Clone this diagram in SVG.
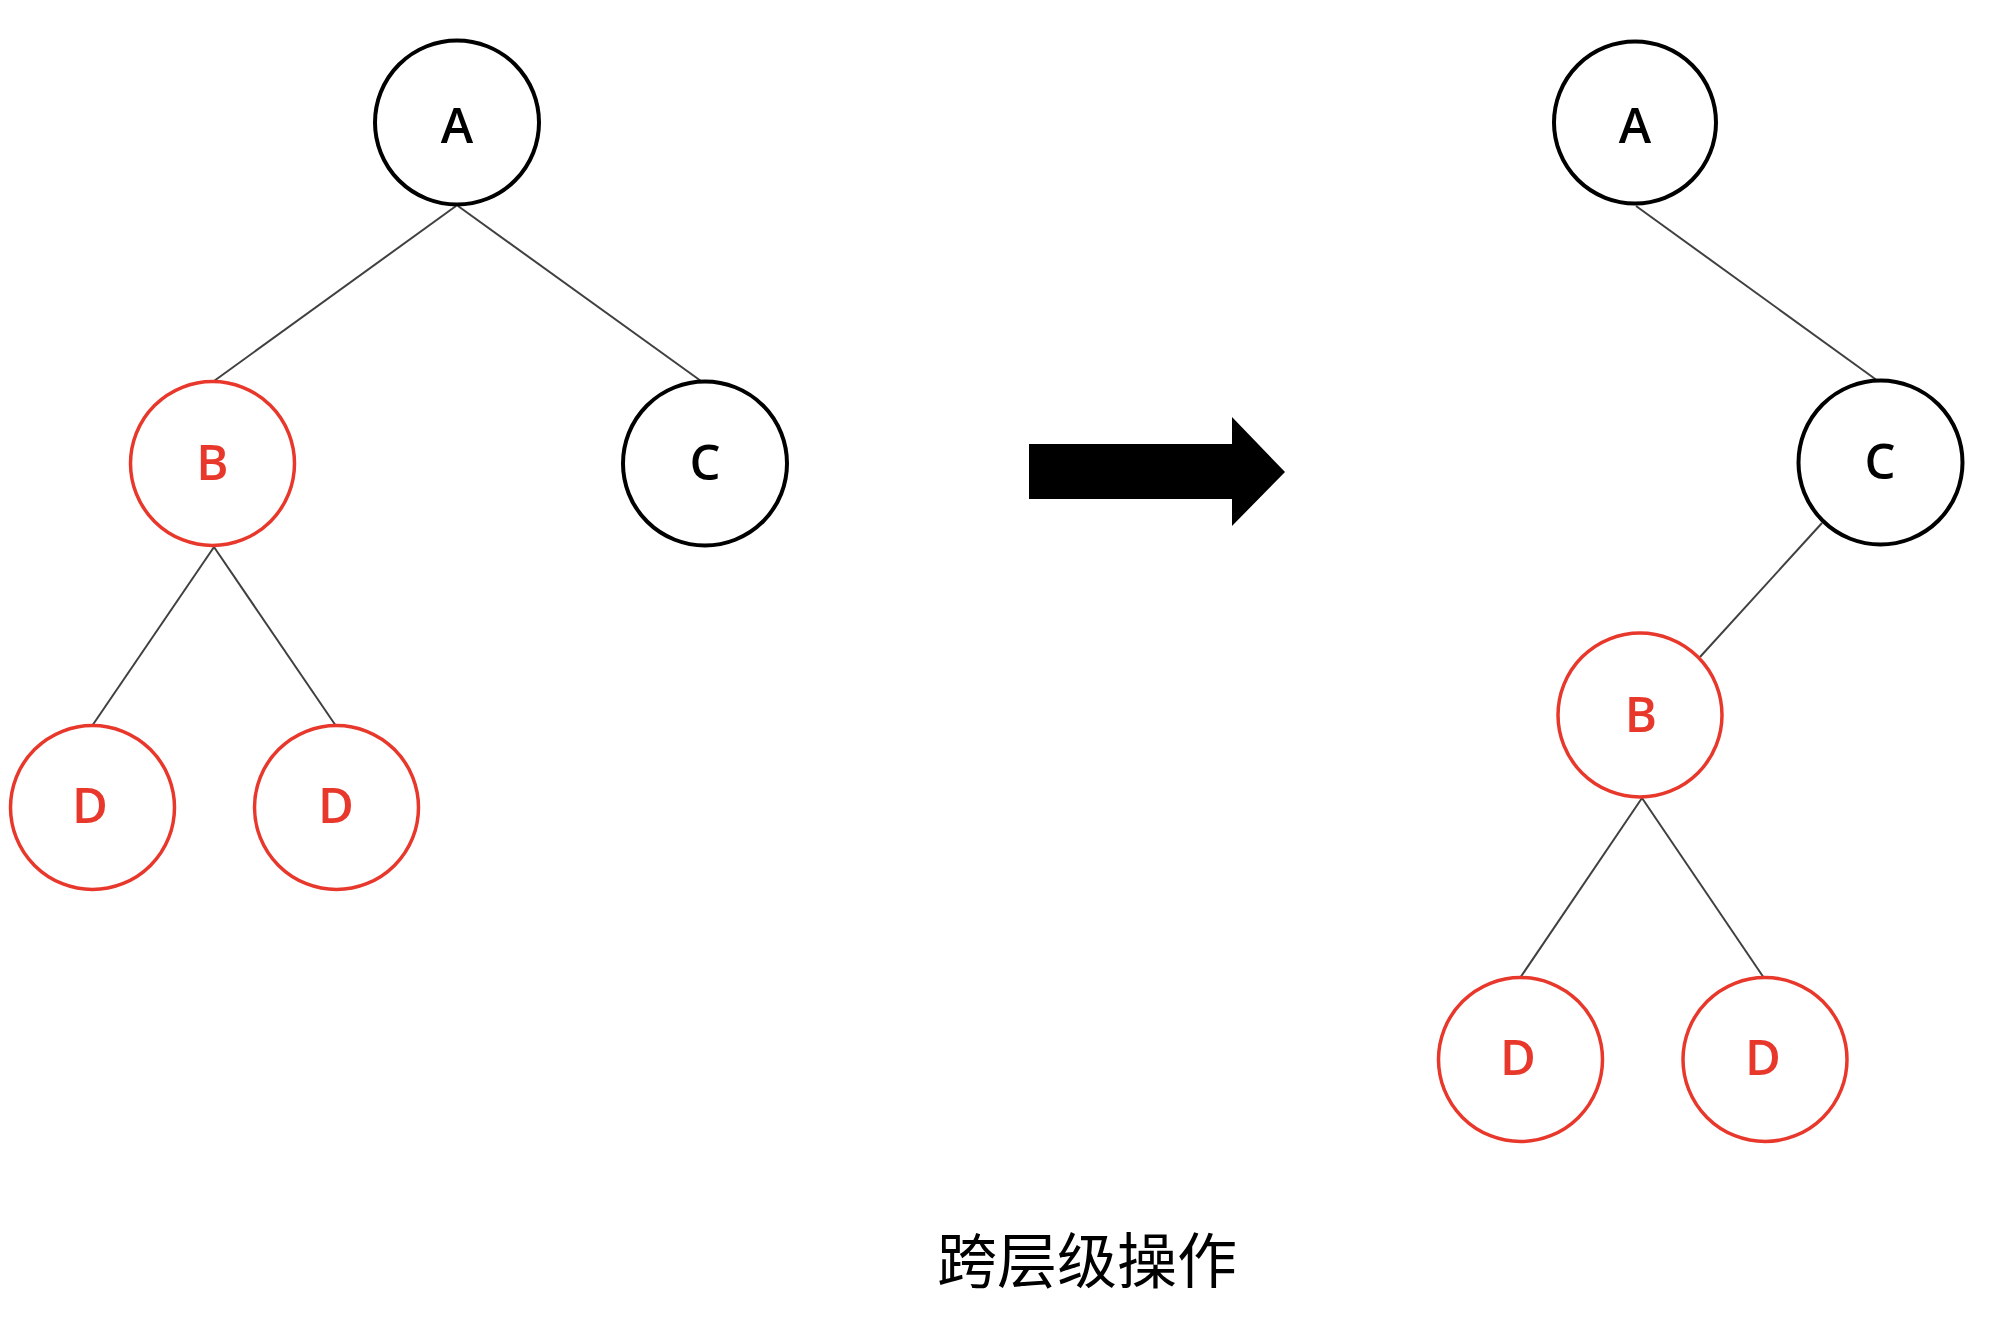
<svg xmlns="http://www.w3.org/2000/svg" width="1996" height="1324" viewBox="0 0 1996 1324">
<style>
.n{fill:#fff;stroke-width:3.5}
.blk{stroke:#000;stroke-width:4}
.red{stroke:#e8382c}
.t{font-family:"Open Sans","Noto Sans",sans-serif;font-size:49px;text-anchor:middle;font-weight:600}
.tb{fill:#000}
.tr{fill:#e8382c}
.e{stroke:#404040;stroke-width:2;fill:none}
.cap{font-family:"Noto Sans CJK SC",sans-serif;font-size:60px;text-anchor:middle;fill:#000}
</style>
<rect width="1996" height="1324" fill="#fff"/>
<g id="connectors">
<line class="e" x1="456" y1="206" x2="214" y2="381"/>
<line class="e" x1="458" y1="206" x2="701" y2="381"/>
<line class="e" x1="214" y1="547" x2="92" y2="726"/>
<line class="e" x1="214" y1="547" x2="336" y2="726"/>
<line class="e" x1="1636" y1="206" x2="1878" y2="381"/>
<line class="e" x1="1822" y1="523" x2="1700" y2="657"/>
<line class="e" x1="1642" y1="798" x2="1520" y2="978"/>
<line class="e" x1="1642" y1="798" x2="1764" y2="978"/>
</g>
<g id="L-A"><circle class="n blk" cx="457" cy="122.5" r="82"/><text class="t tb" x="457" y="143">A</text></g>
<g id="L-B"><circle class="n red" cx="212.5" cy="463.5" r="82"/><text class="t tr" x="212.5" y="480">B</text></g>
<g id="L-C"><circle class="n blk" cx="705" cy="463.5" r="82"/><text class="t tb" x="705" y="480">C</text></g>
<g id="L-D1"><circle class="n red" cx="92.5" cy="807.5" r="82"/><text class="t tr" x="90" y="823">D</text></g>
<g id="L-D2"><circle class="n red" cx="336.5" cy="807.5" r="82"/><text class="t tr" x="336" y="823">D</text></g>
<g id="R-A"><circle class="n blk" cx="1635" cy="122.5" r="81"/><text class="t tb" x="1635" y="143">A</text></g>
<g id="R-C"><circle class="n blk" cx="1880.5" cy="462.5" r="82"/><text class="t tb" x="1880" y="479">C</text></g>
<g id="R-B"><circle class="n red" cx="1640" cy="715" r="82"/><text class="t tr" x="1641" y="732">B</text></g>
<g id="R-D1"><circle class="n red" cx="1520.5" cy="1059.5" r="82"/><text class="t tr" x="1518" y="1075">D</text></g>
<g id="R-D2"><circle class="n red" cx="1765" cy="1059.5" r="82"/><text class="t tr" x="1763" y="1075">D</text></g>
<g id="arrow"><polygon points="1029,444 1232,444 1232,417 1285,472 1232,526 1232,499 1029,499" fill="#000"/></g>
<g id="caption"><text class="cap" x="1087" y="1283">跨层级操作</text></g>
</svg>
